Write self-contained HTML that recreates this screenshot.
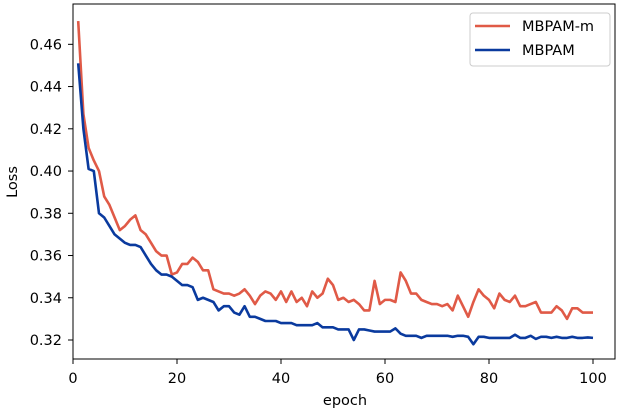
<!DOCTYPE html>
<html><head><meta charset="utf-8"><style>
body{margin:0;background:#fff}
svg{display:block;font-family:"DejaVu Sans","Liberation Sans",sans-serif}
</style></head><body>
<svg width="624" height="414" id="c">
<rect x="73" y="4" width="542" height="355" fill="none" stroke="#000" stroke-width="1"/>
<g id="ticks"></g>
<g id="series"></g>
<text x="345" y="405" text-anchor="middle" font-size="14.5">epoch</text>
<text transform="translate(17,182) rotate(-90)" text-anchor="middle" font-size="14.5">Loss</text>
<g>
<rect x="470" y="13" width="140" height="53" rx="3" fill="#fff" stroke="#ccc"/>
<g><line x1="475" y1="26" x2="510" y2="26" stroke="#e05a47" stroke-width="2.6"/><text x="522" y="31" font-size="14.5">MBPAM-m</text></g>
<g><line x1="475" y1="50" x2="510" y2="50" stroke="#0a3a9e" stroke-width="2.6"/><text x="522" y="55" font-size="14.5">MBPAM</text></g>
</g>
</svg>
<script>
const xTicks=[0,20,40,60,80,100];
const yTicks=[0.32,0.34,0.36,0.38,0.40,0.42,0.44,0.46];
const mbpamM=[0.471,0.427,0.411,0.405,0.400,0.388,0.384,0.378,0.372,0.374,0.377,0.379,0.372,0.370,0.366,0.362,0.360,0.360,0.351,0.352,0.356,0.356,0.359,0.357,0.353,0.353,0.344,0.343,0.342,0.342,0.341,0.342,0.344,0.341,0.337,0.341,0.343,0.342,0.339,0.343,0.338,0.343,0.338,0.340,0.336,0.343,0.340,0.342,0.349,0.346,0.339,0.340,0.338,0.339,0.337,0.334,0.334,0.348,0.337,0.339,0.339,0.338,0.352,0.348,0.342,0.342,0.339,0.338,0.337,0.337,0.336,0.337,0.334,0.341,0.336,0.331,0.338,0.344,0.341,0.339,0.335,0.342,0.339,0.338,0.341,0.336,0.336,0.337,0.338,0.333,0.333,0.333,0.336,0.334,0.330,0.335,0.335,0.333,0.333,0.333];
const mbpam=[0.451,0.420,0.401,0.400,0.380,0.378,0.374,0.370,0.368,0.366,0.365,0.365,0.364,0.360,0.356,0.353,0.351,0.351,0.350,0.348,0.346,0.346,0.345,0.339,0.340,0.339,0.338,0.334,0.336,0.336,0.333,0.332,0.336,0.331,0.331,0.330,0.329,0.329,0.329,0.328,0.328,0.328,0.327,0.327,0.327,0.327,0.328,0.326,0.326,0.326,0.325,0.325,0.325,0.320,0.325,0.325,0.3245,0.324,0.324,0.324,0.324,0.3255,0.323,0.322,0.322,0.322,0.321,0.322,0.322,0.322,0.322,0.322,0.3215,0.322,0.322,0.3215,0.318,0.3215,0.3215,0.321,0.321,0.321,0.321,0.321,0.3225,0.321,0.321,0.322,0.3205,0.3215,0.3215,0.321,0.3215,0.321,0.321,0.3215,0.321,0.321,0.3212,0.321];
const NS="http://www.w3.org/2000/svg";
const xs=e=>73+e*5.2;
const ys=v=>340-(v-0.32)*2112;
const tg=document.getElementById('ticks');
xTicks.forEach(t=>{
 const l=document.createElementNS(NS,'line');
 l.setAttribute('x1',xs(t));l.setAttribute('x2',xs(t));l.setAttribute('y1',359);l.setAttribute('y2',364);l.setAttribute('stroke','#000');
 
 
 tg.appendChild(l);
 const tx=document.createElementNS(NS,'text');
 tx.setAttribute('x',xs(t));tx.setAttribute('y',383);tx.setAttribute('text-anchor','middle');tx.setAttribute('font-size','14.5');
 tx.textContent=t;
 
 
 tg.appendChild(tx);
});
yTicks.forEach(t=>{
 const l=document.createElementNS(NS,'line');
 l.setAttribute('x1',68);l.setAttribute('x2',73);l.setAttribute('y1',ys(t));l.setAttribute('y2',ys(t));l.setAttribute('stroke','#000');
 
 
 tg.appendChild(l);
 const tx=document.createElementNS(NS,'text');
 tx.setAttribute('x',62);tx.setAttribute('y',ys(t)+5);tx.setAttribute('text-anchor','end');tx.setAttribute('font-size','14.5');
 tx.textContent=t.toFixed(2);
 
 
 tg.appendChild(tx);
});
const sg=document.getElementById('series');
function draw(arr,color,name){
 const p=document.createElementNS(NS,'polyline');
 p.setAttribute('points',arr.map((v,i)=>xs(i+1)+','+ys(v)).join(' '));
 p.setAttribute('fill','none');p.setAttribute('stroke',color);p.setAttribute('stroke-width','2.6');p.setAttribute('stroke-linejoin','round');
 
 
 sg.appendChild(p);
}
draw(mbpamM,'#e05a47','mbpam-m-line');
draw(mbpam,'#0a3a9e','mbpam-line');
</script>
</body></html>
